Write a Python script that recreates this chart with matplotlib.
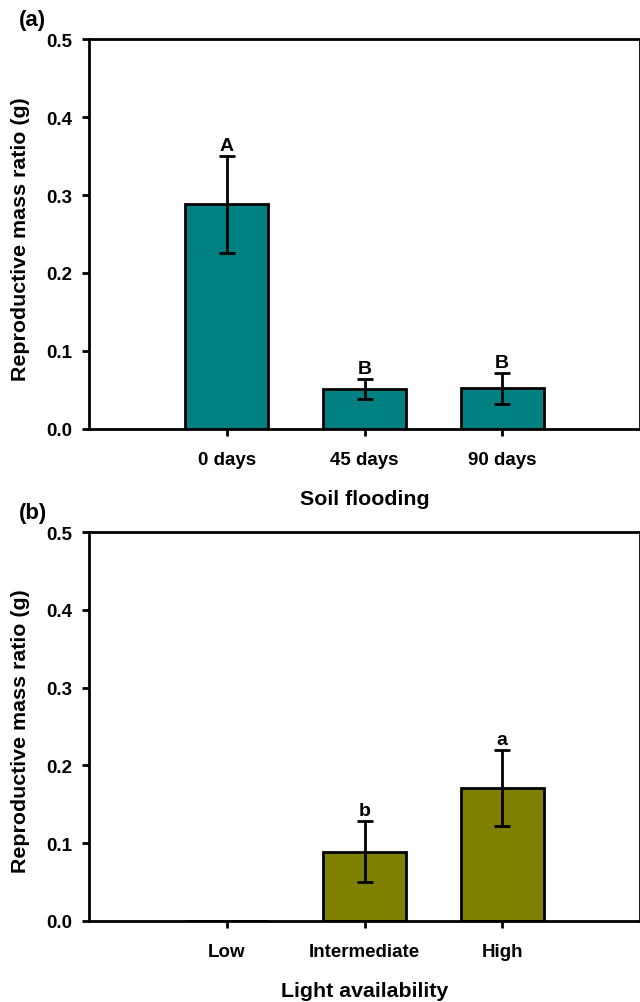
import matplotlib.pyplot as plt
import numpy as np

plt.rcParams['font.family'] = ['Liberation Sans', 'DejaVu Sans']
plt.rcParams['font.weight'] = 'bold'

# panel (a): soil flooding
flood_labels = ['0 days', '45 days', '90 days']
flood_mean = [0.288, 0.051, 0.052]
flood_err = [0.062, 0.013, 0.020]
flood_letters = ['A', 'B', 'B']

# panel (b): light availability
light_labels = ['Low', 'Intermediate', 'High']
light_mean = [0.0, 0.089, 0.171]
light_err = [0.0, 0.039, 0.049]
light_letters = ['', 'b', 'a']

fig = plt.figure(figsize=(6.4, 10.03), dpi=100)
W, H = 640, 1003
ax1 = fig.add_axes([89 / W, 1 - 430 / H, (640 - 89) / W, 390 / H])
ax2 = fig.add_axes([89 / W, 1 - 922 / H, (640 - 89) / W, 389 / H])


def draw(ax, labels, mean, err, letters, color, xlabel, tag):
    x = np.arange(1, len(labels) + 1)
    ax.bar(x, mean, width=0.6, color=color, edgecolor='black', linewidth=2, zorder=2)
    e = np.array(err)
    show = e > 0
    ax.errorbar(x[show], np.array(mean)[show], yerr=e[show], fmt='none',
                ecolor='black', elinewidth=2, capsize=6, capthick=2, zorder=3)
    for xi, m, er, lt in zip(x, mean, err, letters):
        if lt:
            ax.text(xi, m + er + 0.003, lt, ha='center', va='bottom',
                    fontsize=14, fontweight='bold')
    ax.set_xlim(0, 4)
    ax.set_ylim(0, 0.5)
    ax.set_yticks([0, 0.1, 0.2, 0.3, 0.4, 0.5])
    ax.set_yticklabels(['0.0', '0.1', '0.2', '0.3', '0.4', '0.5'])
    ax.set_xticks(x)
    ax.set_xticklabels(labels)
    ax.tick_params(direction='out', length=5, width=2, labelsize=13.5, pad=11)
    ax.tick_params(axis='y', pad=7)
    for s in ax.spines.values():
        s.set_linewidth(2)
    ax.set_ylabel('Reproductive mass ratio (g)', fontsize=15.4, fontweight='bold')
    ax.yaxis.set_label_coords(-0.107, 0.49)
    ax.set_xlabel(xlabel, fontsize=15.4, fontweight='bold', labelpad=15)
    ax.text(-0.128, 1.022, tag, transform=ax.transAxes, fontsize=16,
            fontweight='bold', ha='left', va='bottom')


draw(ax1, flood_labels, flood_mean, flood_err, flood_letters, '#008080',
     'Soil flooding', '(a)')
draw(ax2, light_labels, light_mean, light_err, light_letters, '#808000',
     'Light availability', '(b)')

fig.savefig('out.png', dpi=100)
